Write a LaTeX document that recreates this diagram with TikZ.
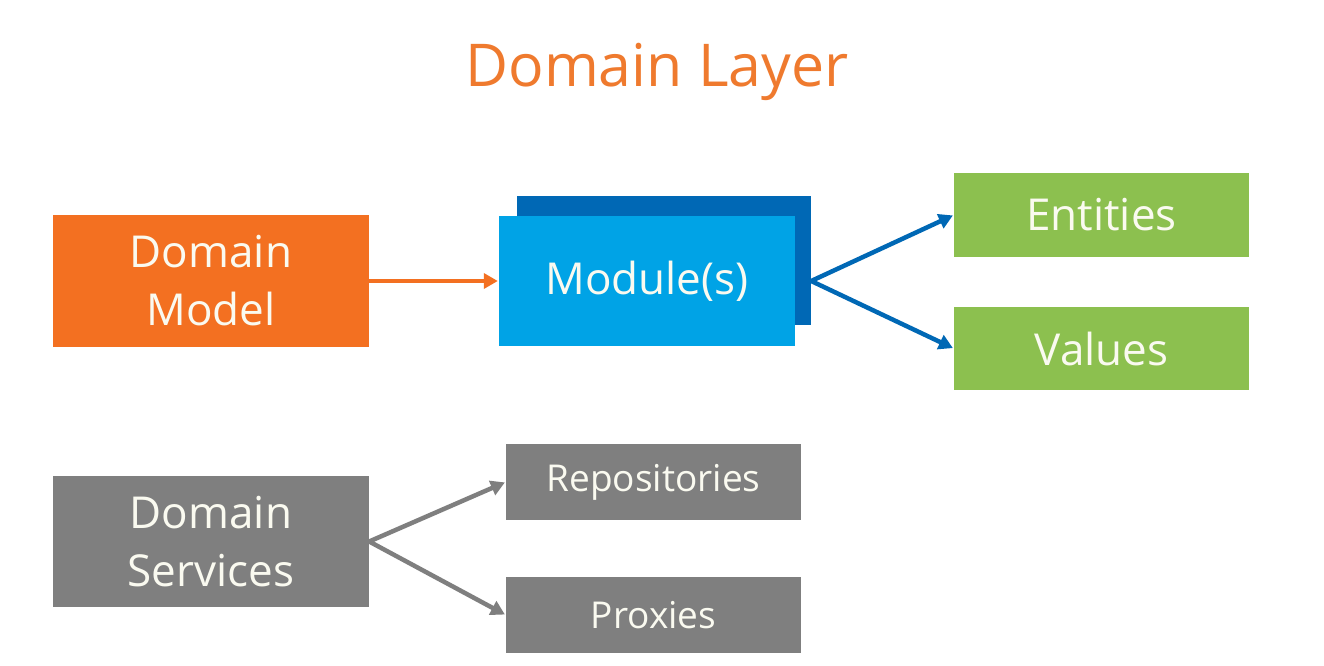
\documentclass[tikz,border=0pt]{standalone}
\usepackage{fontspec}
\setmainfont{Open Sans}
\usetikzlibrary{arrows.meta,calc}
\definecolor{orng}{HTML}{F37021}
\definecolor{ttl}{HTML}{EF7A2E}
\definecolor{lblue}{HTML}{00A3E6}
\definecolor{dblue}{HTML}{0068B5}
\definecolor{grn}{HTML}{8CC04F}
\definecolor{gry}{HTML}{7F7F7F}
\definecolor{wtxt}{HTML}{FAFAF0}
\tikzset{
  boxx/.style={rectangle, inner sep=0pt, text=wtxt, align=center, font=\fontsize{44}{58}\selectfont},
  smalltext/.style={font=\fontsize{37}{44}\selectfont},
  arr/.style={line width=4.5pt, -{Triangle[length=14pt,width=15pt]}, shorten >=1pt},
}
\begin{document}
\begin{tikzpicture}[x=1pt,y=-1pt]
\useasboundingbox[fill=white] (0,0) rectangle (1324,666);
\node[text=ttl, font=\fontsize{59}{70}\selectfont] (title) at (657,72) {Domain Layer};
\node[boxx, fill=orng, minimum width=316pt, minimum height=132pt] (dm) at (211,281) {Domain\\Model};
\node[boxx, fill=dblue, minimum width=294pt, minimum height=129pt] (back) at (664,260.5) {};
\node[boxx, fill=lblue, minimum width=296pt, minimum height=130pt] (front) at (647,281) {Module(s)};
\node[boxx, fill=grn, minimum width=295pt, minimum height=84pt] (ent) at (1101.5,215) {Entities};
\node[boxx, fill=grn, minimum width=295pt, minimum height=83pt] (val) at (1101.5,348.5) {Values};
\node[boxx, fill=gry, minimum width=316pt, minimum height=131pt] (ds) at (211,541.5) {Domain\\Services};
\node[boxx, smalltext, fill=gry, minimum width=295pt, minimum height=76pt] (repo) at (653.5,482) {Repositories};
\node[boxx, smalltext, fill=gry, minimum width=295pt, minimum height=76pt] (prox) at (653.5,615) {Proxies};
\coordinate (bo) at (back.east |- front.east);
\draw[arr, orng] (dm.east) -- (front.west);
\draw[arr, dblue] (bo) -- (ent.west);
\draw[arr, dblue] (bo) -- (val.west);
\draw[arr, gry] (ds.east) -- (repo.west);
\draw[arr, gry] (ds.east) -- (prox.west);
\end{tikzpicture}
\end{document}
